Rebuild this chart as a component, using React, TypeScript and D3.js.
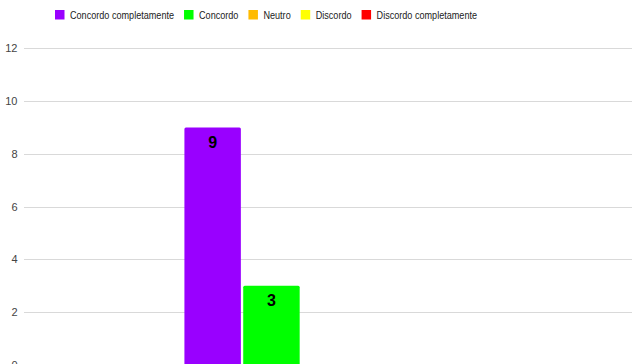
import React, { useEffect, useRef } from "react";
import * as d3 from "d3";

const categories: string[] = [""];
const seriesNames: string[] = [
  "Concordo completamente",
  "Concordo",
  "Neutro",
  "Discordo",
  "Discordo completamente",
];
const seriesColors: string[] = ["#9900ff", "#00ff00", "#ffbb00", "#ffff00", "#ff0000"];
const seriesValues: number[] = [9, 3, 0, 0, 0];
const yTicks: number[] = [0, 2, 4, 6, 8, 10, 12];

const W = 632;
const H = 364;

export default function App() {
  const ref = useRef<SVGSVGElement>(null);

  useEffect(() => {
    const svg = d3.select(ref.current);
    svg.selectAll("*").remove();

    const y = d3.scaleLinear().domain([0, 12]).range([365, 48.3]);
    const x0 = d3.scaleBand<string>().domain(categories).range([24, 636.5]).paddingOuter(0.55).paddingInner(0);
    const x1 = d3
      .scaleBand<string>()
      .domain(seriesNames)
      .range([0, x0.bandwidth()])
      .paddingInner(0.04)
      .paddingOuter(0);

    // gridlines
    svg
      .append("g")
      .selectAll("line")
      .data(yTicks)
      .join("line")
      .attr("x1", 24)
      .attr("x2", W)
      .attr("y1", (d) => Math.round(y(d)) + 0.5)
      .attr("y2", (d) => Math.round(y(d)) + 0.5)
      .attr("stroke", "#d9d9d9")
      .attr("stroke-width", 1);

    // tick labels
    svg
      .append("g")
      .selectAll("text")
      .data(yTicks)
      .join("text")
      .attr("x", 17.5)
      .attr("y", (d) => y(d))
      .attr("dy", "0.35em")
      .attr("text-anchor", "end")
      .attr("font-family", "Arial, 'Liberation Sans', sans-serif")
      .attr("font-size", 11)
      .attr("fill", "#444")
      .text((d) => String(d));

    const data = seriesNames.map((name, i) => ({ name, value: seriesValues[i], color: seriesColors[i] }));

    const g = svg
      .append("g")
      .selectAll("g")
      .data(categories)
      .join("g")
      .attr("transform", (c) => `translate(${x0(c)},0)`);

    g.selectAll("rect")
      .data(data.filter((d) => d.value > 0))
      .join("rect")
      .attr("x", (d) => x1(d.name)!)
      .attr("width", x1.bandwidth())
      .attr("y", (d) => y(d.value))
      .attr("height", (d) => y(0) - y(d.value) + 4)
      .attr("rx", 1.5)
      .attr("fill", (d) => d.color);

    g.selectAll("text.lbl")
      .data(data.filter((d) => d.value > 0))
      .join("text")
      .attr("class", "lbl")
      .attr("x", (d) => x1(d.name)! + x1.bandwidth() / 2)
      .attr("y", (d) => y(d.value) + 20.5)
      .attr("text-anchor", "middle")
      .attr("font-family", "Arial, 'Liberation Sans', sans-serif")
      .attr("font-weight", "bold")
      .attr("font-size", 16)
      .attr("fill", "#000")
      .text((d) => String(d.value));

    // legend
    const lg = svg.append("g");
    let cx = 55;
    data.forEach((d) => {
      lg.append("rect")
        .attr("x", cx)
        .attr("y", 10)
        .attr("width", 9.5)
        .attr("height", 9.5)
        .attr("fill", d.color);
      const t = lg
        .append("text")
        .attr("x", cx + 15)
        .attr("y", 14.8)
        .attr("dy", "0.35em")
        .attr("font-family", "Arial, 'Liberation Sans', sans-serif")
        .attr("font-size", 11.5)
        .attr("fill", "#222")
        .text(d.name);
      const w0 = (t.node() as SVGTextElement).getComputedTextLength();
      const w = w0 * 0.79;
      t.attr("textLength", w).attr("lengthAdjust", "spacingAndGlyphs");
      cx += 15 + w + 10;
    });
  }, []);

  return (
    <svg
      ref={ref}
      width={W}
      height={H}
      style={{ position: "absolute", left: 0, top: 0, background: "#fff" }}
    />
  );
}
